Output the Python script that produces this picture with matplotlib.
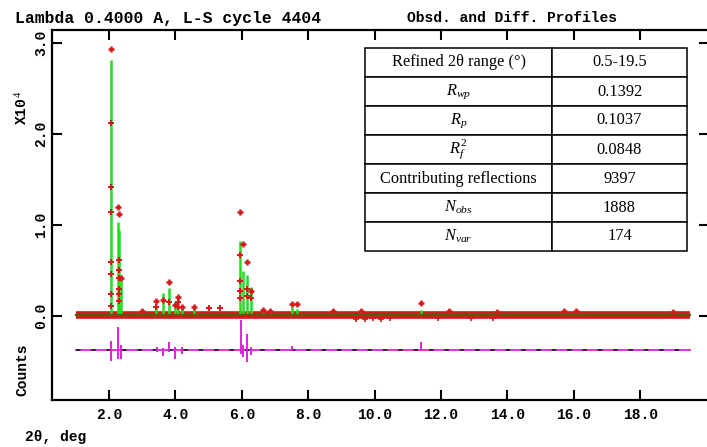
import matplotlib
matplotlib.use("Agg")
import matplotlib.pyplot as plt

plt.rcParams['mathtext.fontset'] = 'custom'
plt.rcParams['mathtext.rm'] = 'Liberation Serif'
plt.rcParams['mathtext.it'] = 'Liberation Serif:italic'

# Reflection positions (2theta, deg) with calculated and observed peak heights (x10^4 counts)
peak_pos = [2.05, 2.27, 2.31, 2.36, 3.00, 3.42, 3.63, 3.81, 4.00, 4.08, 4.20, 4.56,
            5.96, 6.03, 6.15, 6.28, 6.65, 6.85, 7.50, 7.66, 8.75, 9.60, 11.40,
            12.25, 13.70, 15.70, 16.05, 19.00]
calc_height = [2.81, 1.03, 0.95, 0.45, 0.04, 0.12, 0.25, 0.31, 0.15, 0.18, 0.12, 0.12,
               0.82, 0.50, 0.45, 0.32, 0.07, 0.05, 0.10, 0.08, 0.06, 0.05, 0.07,
               0.05, 0.04, 0.05, 0.04, 0.04]
obs_height = [2.93, 1.20, 1.12, 0.42, 0.05, 0.17, 0.18, 0.37, 0.12, 0.21, 0.10, 0.10,
              1.14, 0.79, 0.59, 0.28, 0.07, 0.06, 0.13, 0.13, 0.06, 0.05, 0.14,
              0.06, 0.04, 0.06, 0.05, 0.04]

# Observed points on the flanks of the strong reflections
flank_x = [2.05, 2.05, 2.05, 2.05, 2.05, 2.05, 2.05,
           2.30, 2.30, 2.30, 2.30, 2.30, 2.30,
           5.95, 5.95, 5.95, 5.95, 6.15, 6.15, 6.28,
           3.42, 3.81, 4.08, 4.08, 5.00, 5.35]
flank_y = [2.12, 1.42, 1.14, 0.59, 0.46, 0.24, 0.11,
           0.62, 0.51, 0.42, 0.30, 0.24, 0.17,
           0.67, 0.38, 0.28, 0.20, 0.30, 0.22, 0.20,
           0.10, 0.15, 0.15, 0.10, 0.09, 0.09]

# Scattered low observations along the background
low_x = [9.45, 9.70, 9.95, 10.20, 10.45, 11.90, 12.90, 13.55]
low_y = [-0.03, -0.03, -0.02, -0.03, -0.02, -0.02, -0.02, -0.02]

# Background level and data range
bg_x = [1.0, 19.5]
bg_y = [0.015, 0.015]

# Difference curve (obs - calc), drawn about an offset zero
diff_zero = -0.37
diff_pos = [2.05, 2.28, 2.37, 3.45, 3.63, 3.81, 4.00, 4.20, 5.97, 6.05, 6.17,
            6.28, 7.50, 11.40]
diff_hi = [0.10, 0.25, 0.05, 0.03, 0.02, 0.08, 0.03, 0.03, 0.33, 0.05, 0.17,
           0.03, 0.04, 0.08]
diff_lo = [-0.12, -0.10, -0.10, -0.03, -0.07, -0.03, -0.10, -0.05, -0.05, -0.08,
           -0.13, -0.06, -0.02, -0.02]

x_ticks = [2.0, 4.0, 6.0, 8.0, 10.0, 12.0, 14.0, 16.0, 18.0]
y_ticks = [0.0, 1.0, 2.0, 3.0]

table_labels = ["Refined 2θ range (°)", r"$R_{wp}$", r"$R_{p}$", r"$R_{f}^{2}$",
                "Contributing reflections", r"$N_{obs}$", r"$N_{var}$"]
table_values = ["0.5-19.5", "0.1392", "0.1037", "0.0848", "9397", "1888", "174"]

RED = '#d41a1a'
GREEN = '#22dd22'
MAGENTA = '#dd22dd'
MONO = 'Liberation Mono'

fig = plt.figure(figsize=(7.07, 4.47), dpi=100)
ax = fig.add_axes([52 / 707, 47 / 447, 657 / 707, 370 / 447])
ax.set_xlim(0.283, 20.07)
ax.set_ylim(-0.923, 3.143)

# Observed background band and calculated curve
ax.plot(bg_x, bg_y, color=RED, lw=5.5, solid_capstyle='butt', zorder=2)
ax.plot(low_x, low_y, '+', color=RED, ms=4, mew=1.2, zorder=2)
ax.vlines(peak_pos, bg_y[0], calc_height, color=GREEN, lw=1.8, zorder=3)
ax.plot(bg_x, bg_y, color='#5a5a0a', lw=1.6, zorder=3)
ax.plot(peak_pos, obs_height, '+', color=RED, ms=5, mew=1.8, zorder=4)
ax.plot(flank_x, flank_y, '+', color=RED, ms=5, mew=1.4, zorder=4)

# Difference curve
ax.plot(bg_x, [diff_zero, diff_zero], color=MAGENTA, lw=1.3, zorder=2)
ax.plot(bg_x, [diff_zero, diff_zero], color='#222222', lw=1.3,
        dashes=(2.5, 6), zorder=3)
ax.vlines(diff_pos, [diff_zero + v for v in diff_lo],
          [diff_zero + v for v in diff_hi], color=MAGENTA, lw=1.4, zorder=4)

# Axes styling
for s in ax.spines.values():
    s.set_linewidth(1.6)
ax.set_xticks(x_ticks)
ax.set_yticks(y_ticks)
ax.set_xticklabels([f"{v:.1f}" for v in x_ticks], fontfamily=MONO,
                   fontweight='bold', fontsize=10.5)
ax.set_yticklabels([f"{v:.1f}" for v in y_ticks], fontfamily=MONO,
                   fontweight='bold', fontsize=10.5, rotation=90, va='center')
ax.tick_params(axis='both', which='major', direction='in', length=7, width=1.5,
               top=True, right=True)
ax.tick_params(axis='x', pad=6)
ax.tick_params(axis='y', pad=3)

# Titles and axis captions
fig.text(15 / 707, 1 - 18 / 447, "Lambda 0.4000 A, L-S cycle 4404",
         fontfamily=MONO, fontweight='bold', fontsize=11.8, va='center', ha='left')
fig.text(407 / 707, 1 - 18 / 447, "Obsd. and Diff. Profiles",
         fontfamily=MONO, fontweight='bold', fontsize=10.5, va='center', ha='left')
fig.text(22 / 707, 1 - 108 / 447, r"X10$^{\,4}$", fontfamily=MONO,
         fontweight='bold', fontsize=10.5, rotation=90, va='center', ha='center')
fig.text(22 / 707, 1 - 370 / 447, "Counts", fontfamily=MONO,
         fontweight='bold', fontsize=10.5, rotation=90, va='center', ha='center')
fig.text(25 / 707, 1 - 437 / 447, "2θ, deg", fontfamily=MONO,
         fontweight='bold', fontsize=10.5, va='center', ha='left')

# Refinement statistics table
tbl = ax.table(cellText=[[a, b] for a, b in zip(table_labels, table_values)],
               colWidths=[187 / 657, 135 / 657], cellLoc='center',
               bbox=[313 / 657, (400 - 251) / 370, 322 / 657, 203 / 370])
tbl.auto_set_font_size(False)
for (r, c), cell in tbl.get_celld().items():
    cell.set_linewidth(1.1)
    cell.set_edgecolor('black')
    cell.set_facecolor('white')
    cell.get_text().set_fontfamily('Liberation Serif')
    cell.get_text().set_fontsize(11.8)
tbl.set_zorder(6)

fig.savefig("out.png", dpi=100)
